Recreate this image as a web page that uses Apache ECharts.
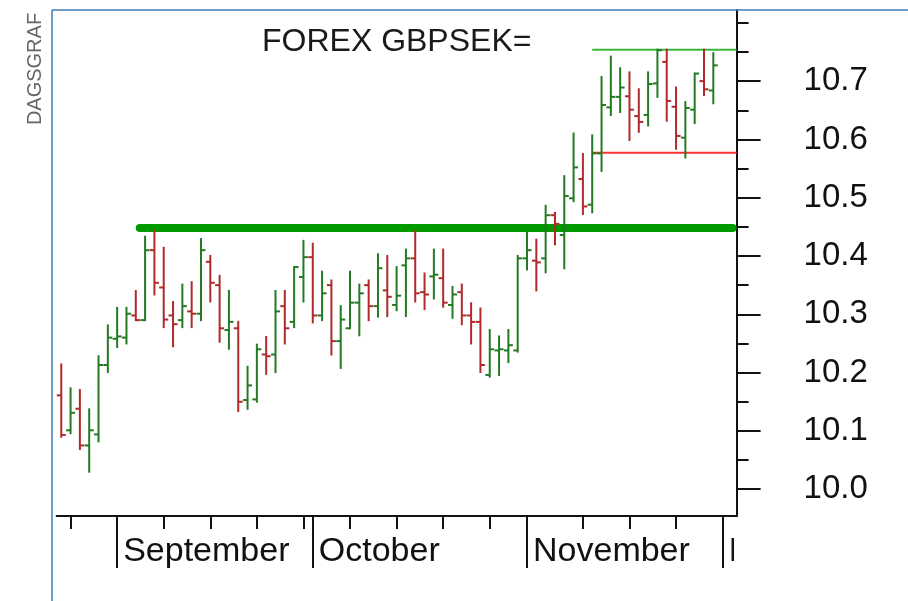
<!DOCTYPE html>
<html>
<head>
<meta charset="utf-8">
<script src="https://cdn.jsdelivr.net/npm/echarts@6/dist/echarts.min.js"></script>
<style>html,body{margin:0;padding:0;background:#fff}#c{width:908px;height:601px}</style>
</head>
<body>
<div id="c"></div>
<script>
// ---- data ----
const dates = [
 '2013-08-23','2013-08-26','2013-08-27','2013-08-28','2013-08-29','2013-08-30',
 '2013-09-02','2013-09-03','2013-09-04','2013-09-05','2013-09-06',
 '2013-09-09','2013-09-10','2013-09-11','2013-09-12','2013-09-13',
 '2013-09-16','2013-09-17','2013-09-18','2013-09-19','2013-09-20',
 '2013-09-23','2013-09-24','2013-09-25','2013-09-26','2013-09-27','2013-09-30',
 '2013-10-01','2013-10-02','2013-10-03','2013-10-04',
 '2013-10-07','2013-10-08','2013-10-09','2013-10-10','2013-10-11',
 '2013-10-14','2013-10-15','2013-10-16','2013-10-17','2013-10-18',
 '2013-10-21','2013-10-22','2013-10-23','2013-10-24','2013-10-25',
 '2013-10-28','2013-10-29','2013-10-30','2013-10-31',
 '2013-11-01','2013-11-04','2013-11-05','2013-11-06','2013-11-07','2013-11-08',
 '2013-11-11','2013-11-12','2013-11-13','2013-11-14','2013-11-15',
 '2013-11-18','2013-11-19','2013-11-20','2013-11-21','2013-11-22',
 '2013-11-25','2013-11-26','2013-11-27','2013-11-28','2013-11-29',
 '2013-12-02','2013-12-03'
];
const opens  = [10.161,10.101,10.138,10.075,10.094,10.213,10.258,10.260,10.298,10.290,10.410,10.346,10.298,10.290,10.305,10.301,10.390,10.350,10.273,10.276,10.153,10.154,10.231,10.231,10.314,10.287,10.364,10.398,10.298,10.350,10.254,10.276,10.320,10.350,10.314,10.341,10.316,10.384,10.396,10.338,10.365,10.362,10.316,10.338,10.298,10.287,10.196,10.238,10.238,10.238,10.396,10.392,10.396,10.470,10.436,10.499,10.532,10.488,10.576,10.655,10.673,10.674,10.640,10.642,10.696,10.733,10.656,10.603,10.651,10.700,10.684];
const highs  = [10.214,10.173,10.170,10.137,10.228,10.281,10.311,10.311,10.340,10.433,10.444,10.414,10.321,10.351,10.355,10.429,10.400,10.366,10.340,10.287,10.210,10.248,10.261,10.340,10.340,10.381,10.426,10.421,10.373,10.358,10.314,10.373,10.351,10.358,10.403,10.400,10.381,10.411,10.443,10.370,10.411,10.411,10.347,10.351,10.319,10.310,10.273,10.262,10.273,10.400,10.441,10.428,10.486,10.474,10.537,10.610,10.575,10.607,10.707,10.742,10.722,10.715,10.686,10.715,10.754,10.754,10.689,10.664,10.713,10.754,10.748];
const lows   = [10.090,10.096,10.069,10.030,10.082,10.201,10.244,10.250,10.290,10.290,10.334,10.278,10.245,10.278,10.278,10.290,10.322,10.253,10.241,10.134,10.138,10.150,10.198,10.201,10.250,10.278,10.322,10.286,10.290,10.231,10.208,10.276,10.264,10.290,10.296,10.297,10.307,10.297,10.322,10.309,10.327,10.313,10.294,10.283,10.250,10.201,10.193,10.196,10.218,10.236,10.377,10.341,10.372,10.420,10.379,10.494,10.472,10.475,10.546,10.642,10.647,10.599,10.613,10.624,10.673,10.632,10.584,10.569,10.628,10.676,10.662];
const closes = [10.093,10.131,10.075,10.101,10.213,10.260,10.262,10.301,10.290,10.410,10.354,10.291,10.283,10.314,10.301,10.410,10.354,10.276,10.287,10.150,10.178,10.240,10.228,10.305,10.276,10.381,10.398,10.298,10.336,10.254,10.291,10.320,10.336,10.314,10.379,10.330,10.332,10.396,10.336,10.334,10.368,10.320,10.334,10.298,10.287,10.213,10.240,10.240,10.247,10.396,10.410,10.389,10.470,10.455,10.503,10.552,10.485,10.576,10.659,10.673,10.689,10.651,10.630,10.695,10.753,10.666,10.606,10.654,10.713,10.686,10.727];

const levelValues = [10.448, 10.754, 10.577];
const levelStarts = ['2013-09-04', '2013-11-12', '2013-11-12'];

const weekTicks = ['2013-08-26','2013-09-02','2013-09-09','2013-09-16','2013-09-23','2013-09-30','2013-10-07','2013-10-14','2013-10-21','2013-10-28','2013-11-11','2013-11-18','2013-11-25','2013-12-02'];
const monthStarts = ['2013-09-02','2013-10-01','2013-11-01','2013-12-02'];
const monthNames  = ['September','October','November','December'];

const priceLabels = [10.0,10.1,10.2,10.3,10.4,10.5,10.6,10.7];
const minorTicks  = [10.05,10.15,10.25,10.35,10.45,10.55,10.65,10.75,10.8];

const titleText = 'FOREX GBPSEK=';
const sideText = 'DAGSGRAF';

// ---- build ----
const FONT = '"Liberation Sans", Arial, sans-serif';
const UP = '#237a23', DOWN = '#b02a2a';
const ohlc = opens.map((o, i) => [i, o, closes[i], lows[i], highs[i]]);
const levelStyles = [
  {stroke: '#009a00', lineWidth: 8, lineCap: 'round'},
  {stroke: '#3cb43c', lineWidth: 2, lineCap: 'butt'},
  {stroke: '#ff3030', lineWidth: 2, lineCap: 'butt'}
];
const weekSet = new Set(weekTicks);
const monthSet = new Set(monthStarts);

const chart = echarts.init(document.getElementById('c'), null, {renderer: 'canvas'});

const levelSeries = levelValues.map((lv, k) => ({
  type: 'custom',
  xAxisIndex: 0, yAxisIndex: 0,
  data: [[dates.indexOf(levelStarts[k]), lv]],
  z: k === 0 ? 3 : 4,
  silent: true,
  renderItem: function (params, api) {
    const p = api.coord([api.value(0), api.value(1)]);
    const cap = levelStyles[k].lineCap === 'round' ? levelStyles[k].lineWidth / 2 : 0;
    const xEnd = params.coordSys.x + params.coordSys.width - cap;
    return {type: 'line', shape: {x1: p[0] + cap, y1: p[1], x2: xEnd, y2: p[1]}, style: levelStyles[k]};
  }
}));

const option = {
  animation: false,
  backgroundColor: '#fff',
  title: {
    text: titleText, left: 262, top: 26, padding: 0,
    textStyle: {fontFamily: FONT, fontSize: 32, fontWeight: 'normal', color: '#1a1a1a'}
  },
  grid: {left: 56.6, right: 171.4, top: 10, bottom: 85, containLabel: false},
  xAxis: [
    {
      type: 'category', data: dates, position: 'bottom', boundaryGap: true,
      axisLine: {show: true, onZero: false, lineStyle: {color: '#111', width: 2}},
      axisTick: {show: true, alignWithLabel: true, length: 13, interval: (i, v) => weekSet.has(v), lineStyle: {color: '#111', width: 2}},
      axisLabel: {show: false}, splitLine: {show: false}
    },
    {
      type: 'category', data: dates, position: 'bottom', boundaryGap: true,
      axisLine: {show: false, onZero: false},
      axisTick: {show: true, alignWithLabel: true, length: 52, interval: (i, v) => monthSet.has(v), lineStyle: {color: '#111', width: 2}},
      axisLabel: {
        show: true, interval: (i, v) => monthSet.has(v),
        formatter: v => monthNames[monthStarts.indexOf(v)] || '',
        align: 'left', padding: [0, 0, 0, 6], margin: 19,
        fontFamily: FONT, fontSize: 34, color: '#111'
      },
      splitLine: {show: false}
    }
  ],
  yAxis: [
    {
      type: 'value', position: 'right', min: 9.954, max: 10.822, scale: true,
      axisLine: {show: true, lineStyle: {color: '#111', width: 2}},
      axisTick: {show: true, length: 24, customValues: priceLabels, lineStyle: {color: '#111', width: 2}},
      axisLabel: {show: true, customValues: priceLabels, formatter: v => v.toFixed(1), margin: 67, padding: [5, 0, 0, 0], fontFamily: FONT, fontSize: 33, color: '#111'},
      splitLine: {show: false}
    },
    {
      type: 'value', position: 'right', min: 9.954, max: 10.822, scale: true,
      axisLine: {show: false},
      axisTick: {show: true, length: 12, customValues: minorTicks, lineStyle: {color: '#111', width: 2}},
      axisLabel: {show: false},
      splitLine: {show: false}
    }
  ],
  series: [
    ...levelSeries,
    {
      type: 'custom', xAxisIndex: 0, yAxisIndex: 0, data: ohlc, z: 5, silent: true,
      renderItem: function (params, api) {
        const x = api.value(0);
        const o = api.coord([x, api.value(1)]);
        const c = api.coord([x, api.value(2)]);
        const l = api.coord([x, api.value(3)]);
        const h = api.coord([x, api.value(4)]);
        const color = api.value(2) >= api.value(1) ? UP : DOWN;
        const t = api.size([1, 0])[0] * 0.48;
        const st = {stroke: color, lineWidth: 2};
        return {type: 'group', children: [
          {type: 'line', shape: {x1: h[0], y1: h[1] - 1, x2: l[0], y2: l[1] + 1}, style: st},
          {type: 'line', shape: {x1: o[0] - t, y1: o[1], x2: o[0], y2: o[1]}, style: st},
          {type: 'line', shape: {x1: c[0], y1: c[1], x2: c[0] + t, y2: c[1]}, style: st}
        ]};
      }
    }
  ],
  graphic: [
    {type: 'line', shape: {x1: 52, y1: 10, x2: 908, y2: 10}, style: {stroke: '#3f7cb8', lineWidth: 1.5}, z: 100},
    {type: 'line', shape: {x1: 52, y1: 10, x2: 52, y2: 601}, style: {stroke: '#3f7cb8', lineWidth: 1.5}, z: 100},
    {type: 'rect', shape: {x: 734, y: 524, width: 174, height: 70}, style: {fill: '#fff'}, z: 100},
    {type: 'text', x: 35, y: 69, rotation: Math.PI / 2,
     style: {text: sideText, fontFamily: FONT, fontSize: 20, fill: '#666', align: 'center', verticalAlign: 'middle'}, z: 100}
  ]
};
chart.setOption(option);
</script>
</body>
</html>
